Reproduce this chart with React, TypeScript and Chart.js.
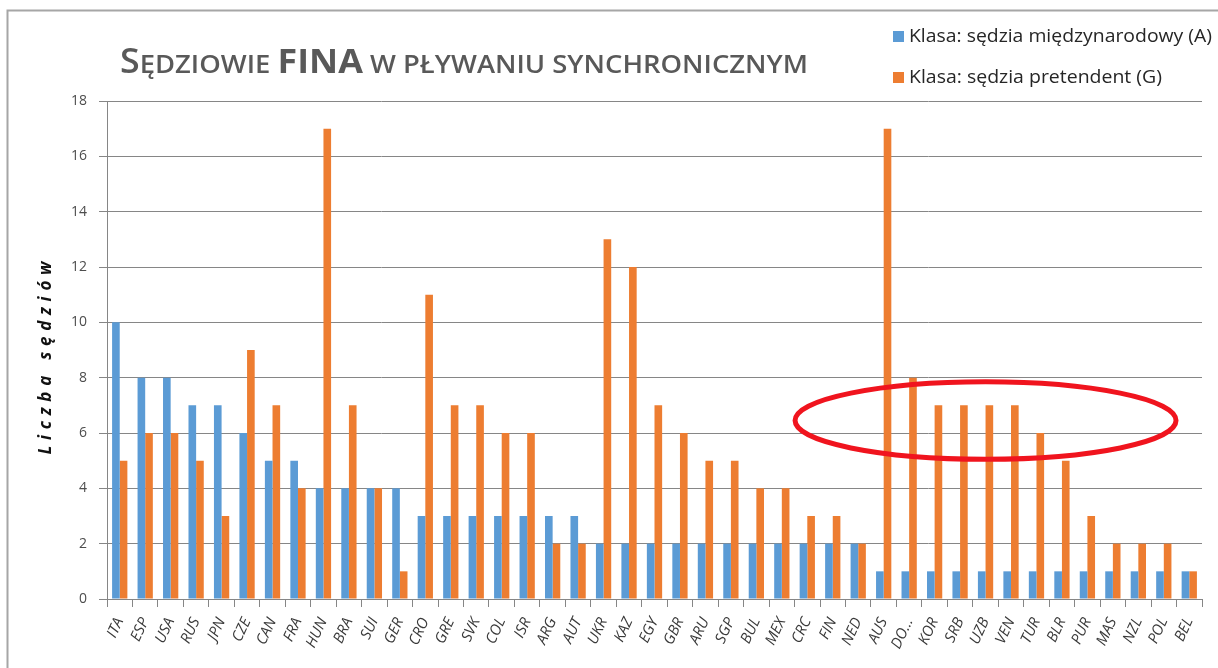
import React, { useEffect, useRef } from 'react';
import { Chart, registerables } from 'chart.js';

Chart.register(...registerables);

const countries = ['ITA','ESP','USA','RUS','JPN','CZE','CAN','FRA','HUN','BRA','SUI','GER','CRO','GRE','SVK','COL','ISR','ARG','AUT','UKR','KAZ','EGY','GBR','ARU','SGP','BUL','MEX','CRC','FIN','NED','AUS','DO…','KOR','SRB','UZB','VEN','TUR','BLR','PUR','MAS','NZL','POL','BEL'];
const internationalJudges = [10,8,8,7,7,6,5,5,4,4,4,4,3,3,3,3,3,3,3,2,2,2,2,2,2,2,2,2,2,2,1,1,1,1,1,1,1,1,1,1,1,1,1];
const candidateJudges = [5,6,6,5,3,9,7,4,17,7,4,1,11,7,7,6,6,2,2,13,12,7,6,5,5,4,4,3,3,2,17,8,7,7,7,7,6,5,3,2,2,2,1];
const seriesLabels = ['Klasa: sędzia międzynarodowy (A)', 'Klasa: sędzia pretendent (G)'];
const seriesColors = ['#5B9BD5', '#ED7D31'];
const titleParts = [
  { text: 'S', big: true, bold: false },
  { text: 'ĘDZIOWIE ', big: false, bold: false },
  { text: 'FINA', big: true, bold: true },
  { text: ' W PŁYWANIU SYNCHRONICZNYM', big: false, bold: false },
];
const yAxisTitle = 'Liczba sędziów';

const FONT = "'Open Sans', 'DejaVu Sans', sans-serif";

const decorPlugin = {
  id: 'decor',
  beforeDraw(chart: any) {
    const ctx = chart.ctx;
    ctx.save();
    ctx.fillStyle = '#ffffff';
    ctx.fillRect(0, 0, chart.width, chart.height);
    ctx.strokeStyle = '#a6a6a6';
    ctx.lineWidth = 2;
    ctx.beginPath();
    ctx.moveTo(7.5, chart.height + 5);
    ctx.lineTo(7.5, 10.5);
    ctx.lineTo(chart.width + 5, 10.5);
    ctx.stroke();
    ctx.restore();
  },
  afterDraw(chart: any) {
    const ctx = chart.ctx;
    // Title
    ctx.save();
    ctx.fillStyle = '#595959';
    ctx.textBaseline = 'alphabetic';
    ctx.textAlign = 'left';
    const fontFor = (p: any) => `${p.bold ? '700' : '600'} ${p.big ? 34 : 26}px ${FONT}`;
    let total = 0;
    const widths = titleParts.map((p) => {
      ctx.font = fontFor(p);
      const w = ctx.measureText(p.text).width;
      total += w;
      return w;
    });
    const sx = 688 / total;
    ctx.translate(120, 73);
    ctx.scale(sx, 1);
    let x = 0;
    titleParts.forEach((p, i) => {
      ctx.font = fontFor(p);
      ctx.fillText(p.text, x, 0);
      x += widths[i];
    });
    ctx.restore();

    // Legend
    ctx.save();
    const legendYs = [37, 78];
    const targetW = [303, 253];
    chart.data.datasets.forEach((ds: any, i: number) => {
      const y = legendYs[i];
      ctx.fillStyle = ds.backgroundColor;
      ctx.fillRect(893, y - 6, 11, 11);
      ctx.font = `400 18px ${FONT}`;
      ctx.fillStyle = '#262626';
      ctx.textBaseline = 'middle';
      const w = ctx.measureText(ds.label).width;
      ctx.save();
      ctx.translate(909, y);
      ctx.scale(targetW[i] / w, 1);
      ctx.fillText(ds.label, 0, 0);
      ctx.restore();
    });
    ctx.restore();

    // Y axis title, letter-spaced
    ctx.save();
    ctx.font = `italic bold 17px ${FONT}`;
    ctx.fillStyle = '#111111';
    ctx.textBaseline = 'middle';
    ctx.textAlign = 'left';
    const chars = Array.from(yAxisTitle);
    const cw = chars.map((c) => ctx.measureText(c).width);
    const natural = cw.reduce((a, b) => a + b, 0);
    const span = 193;
    const gap = (span - natural) / (chars.length - 1);
    ctx.translate(46, 358);
    ctx.rotate(-Math.PI / 2);
    let cx = -span / 2;
    chars.forEach((c, i) => {
      ctx.fillText(c, cx, 0);
      cx += cw[i] + gap;
    });
    ctx.restore();

    // Red ellipse annotation
    const xs = chart.scales.x;
    const ys = chart.scales.y;
    const ecx = xs.getPixelForValue(34);
    const erx = xs.getPixelForValue(34 + 7.48) - ecx;
    const ecy = ys.getPixelForValue(6.45);
    const ery = ys.getPixelForValue(6.45 - 1.4) - ecy;
    ctx.save();
    ctx.strokeStyle = '#f0141e';
    ctx.lineWidth = 5;
    ctx.beginPath();
    ctx.ellipse(ecx, ecy, erx, ery, 0, 0, Math.PI * 2);
    ctx.stroke();
    ctx.restore();
  },
};

export default function App() {
  const ref = useRef<HTMLCanvasElement>(null);
  useEffect(() => {
    const canvas = ref.current!;
    const chart = new Chart(canvas, {
      type: 'bar',
      data: {
        labels: countries,
        datasets: [
          { label: seriesLabels[0], data: internationalJudges, backgroundColor: seriesColors[0], categoryPercentage: 0.6, barPercentage: 1 },
          { label: seriesLabels[1], data: candidateJudges, backgroundColor: seriesColors[1], categoryPercentage: 0.6, barPercentage: 1 },
        ],
      },
      options: {
        responsive: false,
        animation: false,
        layout: { padding: { left: 57, right: 16, top: 101, bottom: 9 } },
        plugins: {
          legend: { display: false },
          title: { display: false },
          tooltip: { enabled: false },
        },
        scales: {
          x: {
            grid: { display: true, drawOnChartArea: false, drawTicks: true, tickLength: 8, offset: true, color: '#868686' },
            border: { display: true, color: '#868686' },
            ticks: {
              autoSkip: false,
              maxRotation: 65,
              minRotation: 65,
              padding: 8,
              color: '#3a3a3a',
              font: { family: FONT, size: 15, style: 'italic' },
            },
            afterFit: (s: any) => { s.height = 60; },
          },
          y: {
            min: 0,
            max: 18,
            ticks: { stepSize: 2, padding: 12, color: '#4d4d4d', font: { family: FONT, size: 14 } },
            grid: { color: '#868686', tickLength: 8 },
            border: { display: true, color: '#868686' },
            afterFit: (s: any) => { s.width = 50; },
          },
        },
      } as any,
      plugins: [decorPlugin],
    });
    return () => chart.destroy();
  }, []);
  return (
    <div style={{ position: 'absolute', left: 0, top: 0, width: 1218, height: 668 }}>
      <canvas ref={ref} width={1218} height={668} />
    </div>
  );
}
